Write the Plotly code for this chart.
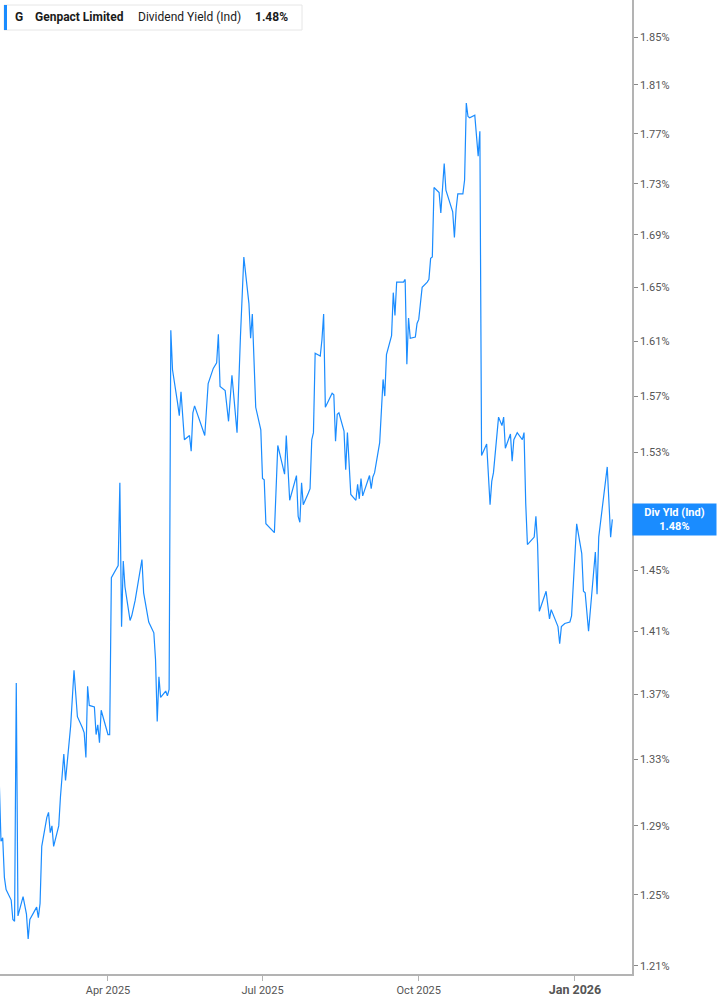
import math
import pandas as pd
import plotly.graph_objects as go

# dividend yield (indicated), percent
dates = [
    "2025-01-27", "2025-01-28", "2025-01-29", "2025-01-30", "2025-01-31",
    "2025-02-03", "2025-02-04", "2025-02-05", "2025-02-06", "2025-02-07",
    "2025-02-10", "2025-02-12", "2025-02-13", "2025-02-14", "2025-02-18",
    "2025-02-19", "2025-02-20", "2025-02-21", "2025-02-24", "2025-02-25",
    "2025-02-26", "2025-02-27", "2025-02-28", "2025-03-03", "2025-03-04",
    "2025-03-06", "2025-03-07", "2025-03-10", "2025-03-12", "2025-03-14",
    "2025-03-17", "2025-03-18", "2025-03-19", "2025-03-20", "2025-03-21",
    "2025-03-24", "2025-03-25", "2025-03-26", "2025-03-27", "2025-03-28",
    "2025-04-01", "2025-04-02", "2025-04-03", "2025-04-07", "2025-04-08",
    "2025-04-09", "2025-04-10", "2025-04-11", "2025-04-14", "2025-04-15",
    "2025-04-17", "2025-04-21", "2025-04-22", "2025-04-25", "2025-04-28",
    "2025-04-29", "2025-04-30", "2025-05-01", "2025-05-02", "2025-05-05",
    "2025-05-06", "2025-05-07", "2025-05-08", "2025-05-09", "2025-05-12",
    "2025-05-13", "2025-05-14", "2025-05-15", "2025-05-16", "2025-05-19",
    "2025-05-20", "2025-05-21", "2025-05-22", "2025-05-28", "2025-05-30",
    "2025-06-02", "2025-06-04", "2025-06-05", "2025-06-06", "2025-06-09",
    "2025-06-11", "2025-06-13", "2025-06-16", "2025-06-18", "2025-06-20",
    "2025-06-23", "2025-06-24", "2025-06-25", "2025-06-27", "2025-06-30",
    "2025-07-01", "2025-07-02", "2025-07-03", "2025-07-08", "2025-07-09",
    "2025-07-10", "2025-07-14", "2025-07-15", "2025-07-17", "2025-07-21",
    "2025-07-22", "2025-07-23", "2025-07-24", "2025-07-25", "2025-07-28",
    "2025-07-29", "2025-07-30", "2025-07-31", "2025-08-01", "2025-08-04",
    "2025-08-05", "2025-08-06", "2025-08-07", "2025-08-11", "2025-08-12",
    "2025-08-13", "2025-08-14", "2025-08-15", "2025-08-18", "2025-08-19",
    "2025-08-20", "2025-08-22", "2025-08-25", "2025-08-26", "2025-08-27",
    "2025-08-28", "2025-08-29", "2025-09-02", "2025-09-03", "2025-09-04",
    "2025-09-05", "2025-09-08", "2025-09-10", "2025-09-11", "2025-09-12",
    "2025-09-15", "2025-09-16", "2025-09-17", "2025-09-18", "2025-09-22",
    "2025-09-23", "2025-09-24", "2025-09-25", "2025-09-26", "2025-09-29",
    "2025-09-30", "2025-10-01", "2025-10-03", "2025-10-06", "2025-10-07",
    "2025-10-08", "2025-10-09", "2025-10-10", "2025-10-13", "2025-10-14",
    "2025-10-16", "2025-10-17", "2025-10-21", "2025-10-22", "2025-10-23",
    "2025-10-24", "2025-10-27", "2025-10-28", "2025-10-29", "2025-10-30",
    "2025-10-31", "2025-11-03", "2025-11-05", "2025-11-06", "2025-11-07",
    "2025-11-10", "2025-11-12", "2025-11-13", "2025-11-14", "2025-11-17",
    "2025-11-19", "2025-11-20", "2025-11-21", "2025-11-24", "2025-11-25",
    "2025-11-26", "2025-11-28", "2025-12-01", "2025-12-02", "2025-12-03",
    "2025-12-04", "2025-12-08", "2025-12-09", "2025-12-10", "2025-12-11",
    "2025-12-15", "2025-12-17", "2025-12-18", "2025-12-22", "2025-12-23",
    "2025-12-24", "2025-12-26", "2025-12-29", "2025-12-30", "2026-01-02",
    "2026-01-05", "2026-01-06", "2026-01-07", "2026-01-09", "2026-01-13",
    "2026-01-14", "2026-01-15", "2026-01-20", "2026-01-22", "2026-01-23",
]

yields = [
    1.316, 1.281, 1.283, 1.260, 1.253,
    1.247, 1.236, 1.235, 1.377, 1.238,
    1.249, 1.239, 1.225, 1.236, 1.243,
    1.237, 1.245, 1.278, 1.295, 1.298,
    1.286, 1.290, 1.278, 1.290, 1.307,
    1.333, 1.317, 1.350, 1.385, 1.356,
    1.349, 1.346, 1.331, 1.375, 1.363,
    1.362, 1.345, 1.351, 1.340, 1.360,
    1.345, 1.345, 1.445, 1.453, 1.509,
    1.413, 1.456, 1.439, 1.417, 1.420,
    1.430, 1.457, 1.435, 1.416, 1.409,
    1.392, 1.353, 1.381, 1.368, 1.372,
    1.369, 1.373, 1.618, 1.589, 1.565,
    1.556, 1.573, 1.552, 1.539, 1.542,
    1.531, 1.558, 1.563, 1.542, 1.579,
    1.590, 1.594, 1.615, 1.577, 1.574,
    1.552, 1.585, 1.544, 1.613, 1.673,
    1.638, 1.612, 1.630, 1.562, 1.546,
    1.512, 1.511, 1.481, 1.475, 1.500,
    1.535, 1.515, 1.542, 1.497, 1.514,
    1.486, 1.482, 1.509, 1.494, 1.502,
    1.505, 1.539, 1.544, 1.601, 1.599,
    1.611, 1.630, 1.562, 1.572, 1.571,
    1.538, 1.557, 1.558, 1.545, 1.518,
    1.544, 1.501, 1.497, 1.508, 1.498,
    1.512, 1.500, 1.514, 1.505, 1.513,
    1.516, 1.537, 1.582, 1.570, 1.600,
    1.614, 1.646, 1.629, 1.654, 1.654,
    1.656, 1.593, 1.627, 1.612, 1.613,
    1.623, 1.626, 1.650, 1.654, 1.656,
    1.672, 1.673, 1.727, 1.723, 1.707,
    1.746, 1.725, 1.708, 1.688, 1.710,
    1.722, 1.722, 1.733, 1.795, 1.784,
    1.783, 1.785, 1.752, 1.772, 1.528,
    1.536, 1.494, 1.510, 1.516, 1.555,
    1.549, 1.555, 1.533, 1.543, 1.524,
    1.539, 1.544, 1.539, 1.544, 1.495,
    1.467, 1.472, 1.486, 1.467, 1.423,
    1.436, 1.418, 1.424, 1.413, 1.402,
    1.413, 1.415, 1.416, 1.420, 1.481,
    1.461, 1.436, 1.435, 1.410, 1.462,
    1.434, 1.472, 1.520, 1.472, 1.484,
]

y_ticks = [1.21, 1.25, 1.29, 1.33, 1.37, 1.41, 1.45, 1.49, 1.53,
           1.57, 1.61, 1.65, 1.69, 1.73, 1.77, 1.81, 1.85]
x_ticks = ["2025-04-01", "2025-07-01", "2025-10-01", "2026-01-01"]
x_tick_labels = ["Apr 2025", "Jul 2025", "Oct 2025",
                 "<b><span style='font-size:12.5px'>Jan 2026</span></b>"]

BLUE = "#1a8cff"
AXIS = "#b3b3b3"
FONT = "Roboto"

df = pd.DataFrame({"date": pd.to_datetime(dates), "yield": yields})

# the 1.49% label sits under the last-value badge, so leave it blank
y_tick_text = ["" if v == 1.49 else f"{v:.2f}%" for v in y_ticks]

fig = go.Figure()
fig.add_trace(go.Scatter(x=df["date"], y=df["yield"], mode="lines",
                         line=dict(color=BLUE, width=1.2), name="Div Yld (Ind)"))

fig.update_layout(
    width=717, height=1005,
    margin=dict(l=0, r=85, t=0, b=31),
    plot_bgcolor="white", paper_bgcolor="white",
    showlegend=False,
    font=dict(family=FONT, size=11, color="#555555"),
)
fig.update_xaxes(
    type="date", range=["2025-01-27 10:00", "2026-02-03 14:00"],
    tickvals=x_ticks, ticktext=x_tick_labels,
    showgrid=False, zeroline=False,
    showline=True, linecolor=AXIS, linewidth=1.5,
    ticks="outside", ticklen=5, tickcolor=AXIS,
    tickfont=dict(size=11, color="#555555"),
)
fig.update_yaxes(
    type="log", side="right", range=[0.08119, 0.27452],
    tickvals=y_ticks, ticktext=y_tick_text,
    showgrid=False, zeroline=False,
    showline=True, linecolor=AXIS, linewidth=1.5,
    ticks="outside", ticklen=4, tickcolor="#888888",
    tickfont=dict(size=11, color="#555555"),
)

# header box
fig.add_shape(type="rect", xref="paper", yref="paper",
              x0=4 / 632, x1=302 / 632, y0=1 - 30 / 974, y1=1 - 5 / 974,
              line=dict(color="#e6e6e6", width=1), fillcolor="white", layer="above")
fig.add_shape(type="rect", xref="paper", yref="paper",
              x0=4 / 632, x1=7 / 632, y0=1 - 30 / 974, y1=1 - 5 / 974,
              line=dict(width=0), fillcolor=BLUE, layer="above")
header = [(13, "<b>G</b>"), (33, "<b>Genpact Limited</b>"),
          (136, "Dividend Yield (Ind)"), (253, "<b>%.2f%%</b>" % yields[-1])]
for px, txt in header:
    fig.add_annotation(xref="paper", yref="paper", x=px / 632, y=1 - 17.5 / 974,
                       xanchor="left", yanchor="middle", showarrow=False, text=txt,
                       font=dict(family=FONT, size=12, color="#1a1a1a"))

# last value label on the axis
fig.add_annotation(xref="paper", yref="y", x=1, y=math.log10(yields[-1]),
                   xanchor="left", yanchor="middle", showarrow=False,
                   text="<b>Div Yld (Ind)</b><br><b>%.2f%%</b>" % yields[-1],
                   font=dict(family=FONT, size=11, color="white"),
                   bgcolor=BLUE, width=79, borderpad=2, align="center")

fig.write_html("out.html", config={"displayModeBar": False},
               post_script="document.body.style.margin='0';")
